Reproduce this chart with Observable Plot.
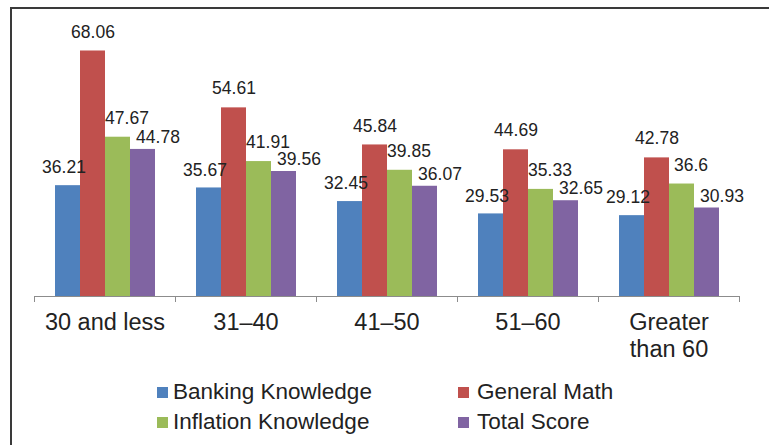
<!DOCTYPE html>
<html>
<head>
<meta charset="utf-8">
<script src="https://cdn.jsdelivr.net/npm/d3@7"></script>
<script src="https://cdn.jsdelivr.net/npm/@observablehq/plot@0.6"></script>
<style>
  html, body { margin: 0; padding: 0; background: #fff; }
  #wrap { position: relative; width: 769px; height: 445px; overflow: hidden; background: #fff;
          font-family: "Liberation Sans", Arial, sans-serif; color: #222; }
  #frame { position: absolute; left: 10px; top: 7px; right: -5px; bottom: -5px;
           border-left: 2px solid #3a3a3a; border-top: 2px solid #3a3a3a; }
  #chart { position: absolute; left: 0; top: 0; }
  .leg { position: absolute; font-size: 22.5px; line-height: 24px; white-space: nowrap; }
  .sw { position: absolute; width: 11px; height: 11px; }
</style>
</head>
<body>
<div id="wrap">
  <div id="frame"></div>
  <div id="chart"></div>
  <div id="legend"></div>
</div>
<script>
const groups = ["30 and less", "31–40", "41–50", "51–60", "Greater than 60"];
const seriesNames = ["Banking Knowledge", "General Math", "Inflation Knowledge", "Total Score"];
const bankingKnowledge = [36.21, 35.67, 32.45, 29.53, 29.12];
const generalMath = [68.06, 54.61, 45.84, 44.69, 42.78];
const inflationKnowledge = [47.67, 41.91, 39.85, 35.33, 36.6];
const totalScore = [44.78, 39.56, 36.07, 32.65, 30.93];
const colors = ["#4F81BD", "#C0504D", "#9BBB59", "#8064A2"];

const seriesValues = [bankingKnowledge, generalMath, inflationKnowledge, totalScore];
const data = [];
groups.forEach((g, i) => {
  seriesNames.forEach((s, j) => {
    data.push({group: g, series: s, value: seriesValues[j][i]});
  });
});

// per-series label nudges (style only)
const nudges = [
  {dx: -4, dy: -18},
  {dx: 0, dy: -19},
  {dx: 9, dy: -19},
  {dx: 15, dy: -12}
];

const labelMarks = seriesNames.map((s, j) =>
  Plot.text(data.filter(d => d.series === s), {
    fx: "group", x: "series", y: "value", text: d => String(d.value),
    dx: nudges[j].dx, dy: nudges[j].dy, fontSize: 17.5, fill: "#222"
  })
);

const chart = Plot.plot({
  width: 769,
  height: 365,
  marginLeft: 33,
  marginRight: 29,
  marginTop: 0,
  marginBottom: 64,
  style: {fontFamily: "Liberation Sans, Arial, sans-serif", fontSize: "23px", background: "transparent", color: "#222"},
  fx: {domain: groups, padding: 0, label: null, axis: null},
  x: {domain: seriesNames, paddingInner: 0, paddingOuter: 0.74, axis: null},
  y: {domain: [10, 80], range: [296, 0], axis: null},
  color: {domain: seriesNames, range: colors},
  marks: [
    Plot.barY(data, {fx: "group", x: "series", y1: 10, y2: "value", fill: "series", inset: 0}),
    Plot.ruleY([10], {stroke: "#8c8c8c", strokeWidth: 1.2}),
    Plot.frame({anchor: "left", stroke: "#8c8c8c", insetTop: 296}),
    Plot.frame({anchor: "right", stroke: "#8c8c8c", insetTop: 296}),
    Plot.axisFx({anchor: "bottom", tickSize: 0, tickPadding: 9, fontSize: 23.5, lineHeight: 1.15,
                 label: null, fill: "#222",
                 tickFormat: d => d === "Greater than 60" ? "Greater\nthan 60" : d}),
    ...labelMarks
  ]
});
document.getElementById("chart").appendChild(chart);

// legend
const legendPos = [
  {sx: 157, tx: 173, y: 392},
  {sx: 458, tx: 477, y: 392},
  {sx: 157, tx: 173, y: 422},
  {sx: 458, tx: 477, y: 422}
];
const legend = document.getElementById("legend");
seriesNames.forEach((s, j) => {
  const p = legendPos[j];
  const sw = document.createElement("div");
  sw.className = "sw";
  sw.style.left = p.sx + "px";
  sw.style.top = (p.y - 5) + "px";
  sw.style.background = colors[j];
  legend.appendChild(sw);
  const t = document.createElement("div");
  t.className = "leg";
  t.style.left = p.tx + "px";
  t.style.top = (p.y - 12) + "px";
  t.textContent = s;
  legend.appendChild(t);
});
</script>
</body>
</html>
